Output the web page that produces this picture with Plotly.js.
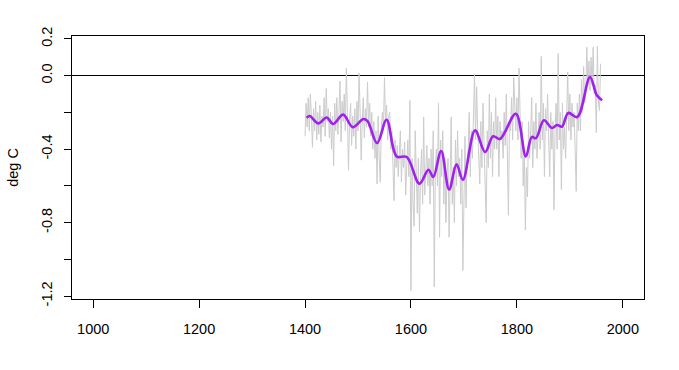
<!DOCTYPE html>
<html>
<head>
<meta charset="utf-8">
<script src="https://cdn.plot.ly/plotly-3.0.1.min.js"></script>
<style>html,body{margin:0;padding:0;background:#fff;}#chart{width:679px;height:370px;}</style>
</head>
<body>
<div id="chart"></div>
<script>
// Reconstruction (grey), sampled every 2 years from 1400
const rawStart = 1400;
const rawStep = 2;
const rawValues = [
  -0.33, -0.15, -0.28, -0.12, -0.30, -0.10, -0.22, -0.39, -0.18, -0.30,
  -0.14, -0.35, -0.20, -0.32, -0.16, -0.36, -0.22, -0.28, -0.12, -0.33,
  -0.07, -0.25, -0.18, -0.34, -0.20, -0.40, -0.22, -0.49, -0.15, -0.30,
  -0.12, -0.32, -0.20, -0.03, -0.36, -0.14, -0.25, -0.10, -0.30, 0.04,
  -0.20, -0.515, -0.25, -0.15, -0.38, -0.22, -0.33, -0.18, -0.40, -0.14,
  -0.30, 0.015, -0.20, -0.46, -0.25, -0.12, -0.34, -0.18, -0.28, -0.035,
  -0.28, -0.15, -0.33, -0.20, -0.40, -0.25, -0.45, -0.30, -0.59, -0.22,
  -0.45, -0.58, -0.28, -0.20, -0.30, -0.01, -0.25, -0.16, -0.35, -0.22,
  -0.20, -0.40, -0.30, -0.45, -0.68, -0.35, -0.50, -0.38, -0.55, -0.42,
  -0.30, -0.58, -0.40, -0.50, -0.36, -0.65, -0.45, -0.35, -0.55, -0.135,
  -1.17, -0.45, -0.70, -0.82, -0.30, -0.62, -0.75, -0.45, -0.85, -0.55,
  -0.40, -0.70, -0.225, -0.65, -0.48, -0.38, -0.60, -0.45, -0.70, -0.40,
  -0.60, -0.30, -1.15, -0.50, -0.40, -0.60, -0.15, -0.88, -0.35, -0.55,
  -0.30, -0.70, -0.45, -0.80, -0.55, -0.45, -0.88, -0.60, -0.225, -0.70,
  -0.50, -0.80, -0.35, -0.60, -0.30, -0.55, -0.45, -0.70, -0.40, -1.06,
  -0.50, -0.33, -0.72, -0.45, -0.40, -0.20, -0.55, -0.30, -0.45, -0.25,
  0.01, -0.35, -0.06, -0.30, -0.45, -0.59, -0.25, -0.50, -0.15, -0.40,
  -0.55, -0.80, -0.30, -0.50, -0.10, -0.45, -0.20, -0.55, -0.25, -0.40,
  -0.12, -0.40, -0.22, -0.55, -0.25, -0.35, -0.30, -0.45, -0.20, -0.38,
  -0.10, -0.45, -0.76, -0.25, -0.30, -0.12, -0.35, -0.01, -0.20, -0.30,
  -0.12, -0.35, 0.04, -0.30, -0.45, -0.25, -0.60, -0.40, -0.84, -0.50,
  -0.66, -0.25, -0.45, -0.30, -0.12, -0.50, -0.25, -0.40, -0.15, -0.45,
  -0.30, -0.20, -0.40, 0.105, -0.35, -0.15, -0.55, -0.18, -0.30, -0.10,
  -0.35, -0.55, -0.20, -0.40, -0.25, -0.73, -0.30, -0.15, -0.40, 0.12,
  -0.35, -0.20, -0.62, -0.15, -0.40, -0.28, -0.45, -0.20, 0.02, -0.30,
  -0.10, -0.35, -0.15, -0.28, -0.20, -0.40, -0.63, -0.15, -0.30, -0.10,
  -0.30, -0.02, -0.20, 0.05, -0.15, -0.10, 0.155, -0.05, 0.08, -0.08,
  0.10, -0.05, 0.155, -0.10, -0.05, -0.31, 0.16, -0.15, -0.19, 0.065
];
const rawYears = rawValues.map((_, i) => rawStart + i * rawStep);

// Smoothed curve (purple)
const smoothYears = [1403, 1409, 1425, 1441, 1453, 1472, 1490, 1510, 1518, 1536, 1554, 1573, 1592, 1616, 1633, 1642, 1657, 1672, 1686, 1698, 1721, 1740, 1755, 1768, 1798, 1817, 1828, 1836, 1851, 1866, 1876, 1885, 1897, 1914, 1938, 1951, 1961];
const smoothValues = [-0.23, -0.22, -0.26, -0.228, -0.263, -0.212, -0.28, -0.236, -0.247, -0.367, -0.24, -0.44, -0.443, -0.588, -0.512, -0.552, -0.41, -0.62, -0.483, -0.566, -0.298, -0.416, -0.33, -0.345, -0.207, -0.44, -0.334, -0.34, -0.243, -0.285, -0.269, -0.278, -0.203, -0.225, -0.008, -0.107, -0.134];

const xTicks = [1000, 1200, 1400, 1600, 1800, 2000];
const yTicks = [0.2, 0.0, -0.2, -0.4, -0.6, -0.8, -1.0, -1.2];
const yTickText = ['0.2', '0.0', '', '-0.4', '', '-0.8', '', '-1.2'];

const font = {family: 'Liberation Sans, Arial, sans-serif', size: 14.5, color: '#000'};

const traces = [
  {x: rawYears, y: rawValues, type: 'scatter', mode: 'lines',
   line: {color: '#cccccc', width: 1}, hoverinfo: 'skip'},
  {x: smoothYears, y: smoothValues, type: 'scatter', mode: 'lines',
   line: {color: '#a020f0', width: 2.6, shape: 'spline', smoothing: 1}}
];

const layout = {
  width: 679, height: 370,
  margin: {l: 72, r: 35, t: 36, b: 71},
  paper_bgcolor: '#fff', plot_bgcolor: '#fff',
  showlegend: false,
  font: font,
  xaxis: {
    range: [960, 2040], tickvals: xTicks, ticktext: xTicks.map(String),
    showgrid: false, zeroline: false,
    showline: true, mirror: true, linecolor: '#000', linewidth: 1,
    ticks: 'outside', ticklen: 8, tickcolor: '#000', tickwidth: 1,
    tickfont: font, ticklabelstandoff: 9
  },
  yaxis: {
    range: [-1.216, 0.216], tickvals: yTicks, ticktext: yTickText,
    showgrid: false, zeroline: true, zerolinecolor: '#000', zerolinewidth: 1,
    showline: true, mirror: true, linecolor: '#000', linewidth: 1,
    ticks: 'outside', ticklen: 7, tickcolor: '#000', tickwidth: 1,
    tickangle: -90, tickfont: font, ticklabelstandoff: 6,
    title: {text: 'deg C', font: font, standoff: 17}
  }
};

Plotly.newPlot('chart', traces, layout, {displayModeBar: false, staticPlot: true});
</script>
</body>
</html>
